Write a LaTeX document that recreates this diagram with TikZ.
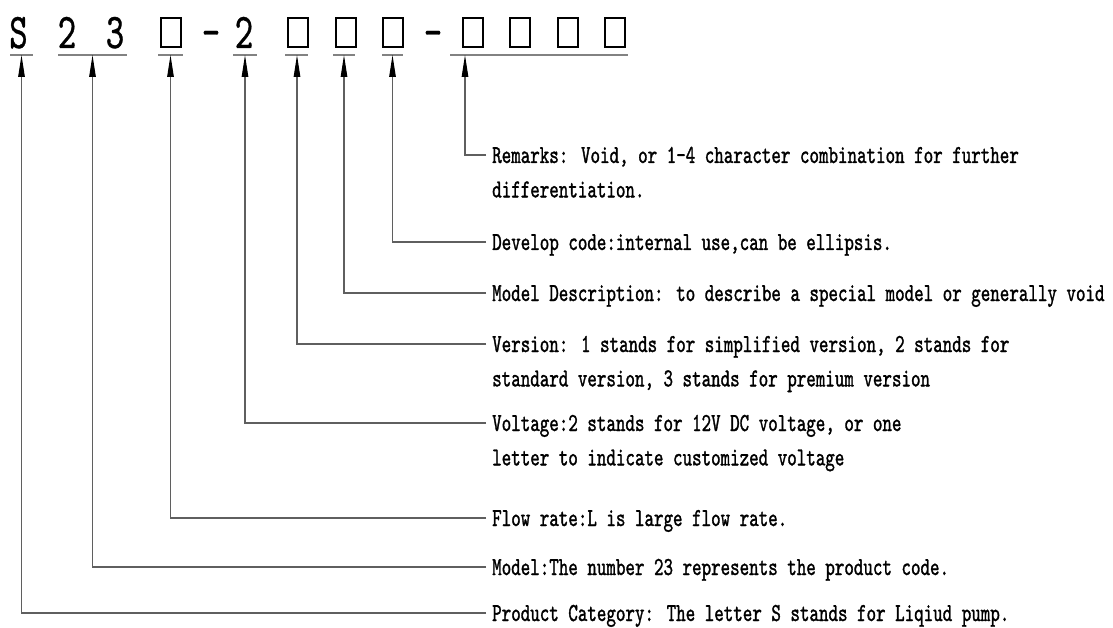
\documentclass[tikz,border=0pt]{standalone}
\usepackage{fontspec}
\newfontfamily\codefont[FakeStretch=0.7, FakeBold=1.2]{lmmono10-regular.otf}
\newfontfamily\bigcodefont[FakeStretch=0.7, FakeBold=0.7]{lmmono10-regular.otf}
\usetikzlibrary{arrows.meta,positioning}
\definecolor{leadgray}{RGB}{95,95,95}
\definecolor{linegray}{RGB}{130,130,130}

\begin{document}
\begin{tikzpicture}[
        x=1pt, y=-1pt,
        codechar/.style={font=\bigcodefont\fontsize{50}{50}\selectfont, inner sep=0pt, anchor=base},
        slot/.style={rectangle, draw=black, line width=1.8pt, minimum width=19.5pt, minimum height=29.5pt, inner sep=0pt},
        desc/.style={font=\codefont\fontsize{25.9}{34}\selectfont, anchor=west, inner xsep=6pt, inner ysep=0pt,
            text height=16pt, text depth=0pt},
        uline/.style={draw=linegray, line width=1.8pt},
        lead/.style={draw=leadgray, line width=1.1pt, -{Triangle[length=22pt, width=6.5pt, color=black]}}
    ]
    \useasboundingbox (0,0) rectangle (1113,628);

    % Model code S23x-2xxx-xxxx
    \node[codechar] (cS) at (18.5,48) {S};
    \node[codechar] (c2) at (67,48) {2};
    \node[codechar] (c3) at (115,48) {3};
    \node[slot] (sFlow) at (171,32.5) {};
    \node[codechar] (dash1) at (211,48) {-};
    \node[codechar] (cVolt) at (244,48) {2};
    \node[slot] (sVer) at (298,32.5) {};
    \node[slot] (sDesc) at (346,32.5) {};
    \node[slot] (sDev) at (393,32.5) {};
    \node[codechar] (dash2) at (433,48) {-};
    \node[slot] (sRem1) at (473,32.5) {};
    \node[slot] (sRem2) at (520,32.5) {};
    \node[slot] (sRem3) at (568,32.5) {};
    \node[slot] (sRem4) at (615,32.5) {};

    % Underlines (arrow targets)
    \coordinate (uS) at (21.5,55);
    \coordinate (u23) at (92.5,55);
    \coordinate (uFlow) at (170.5,55);
    \coordinate (uVolt) at (245,55);
    \coordinate (uVer) at (297,55);
    \coordinate (uDesc) at (344,55);
    \coordinate (uDev) at (392.5,55);
    \coordinate (uRem) at (465,55);
    \draw[uline] (10,55) -- (33,55);
    \draw[uline] (58,55) -- (127,55);
    \draw[uline] (158,55) -- (183,55);
    \draw[uline] (233,55) -- (257,55);
    \draw[uline] (285,55) -- (308,55);
    \draw[uline] (333,55) -- (355,55);
    \draw[uline] (382,55) -- (403,55);
    \draw[uline] (450,55) -- (628,55);

    % Descriptions
    \node[desc] (tRem) at (486,155) {Remarks: Void, or 1-4 character combination for further};
    \node[desc, below=18pt of tRem.south west, anchor=north west] (tRem2) {differentiation.};
    \node[desc] (tDev) at (486,242) {Develop code:internal use,can be ellipsis.};
    \node[desc] (tDesc) at (486,293) {Model Description: to describe a special model or generally void};
    \node[desc] (tVer) at (486,344) {Version: 1 stands for simplified version, 2 stands for};
    \node[desc, below=18pt of tVer.south west, anchor=north west] (tVer2) {standard version, 3 stands for premium version};
    \node[desc] (tVolt) at (486,423) {Voltage:2 stands for 12V DC voltage, or one};
    \node[desc, below=18pt of tVolt.south west, anchor=north west] (tVolt2) {letter to indicate customized voltage};
    \node[desc] (tFlow) at (486,518) {Flow rate:L is large flow rate.};
    \node[desc] (tModel) at (486,567) {Model:The number 23 represents the product code.};
    \node[desc] (tProd) at (486,613) {Product Category: The letter S stands for Liqiud pump.};

    % Leaders
    \draw[lead] (tRem.west) -| (uRem);
    \draw[lead] (tDev.west) -| (uDev);
    \draw[lead] (tDesc.west) -| (uDesc);
    \draw[lead] (tVer.west) -| (uVer);
    \draw[lead] (tVolt.west) -| (uVolt);
    \draw[lead] (tFlow.west) -| (uFlow);
    \draw[lead] (tModel.west) -| (u23);
    \draw[lead] (tProd.west) -| (uS);
\end{tikzpicture}
\end{document}
